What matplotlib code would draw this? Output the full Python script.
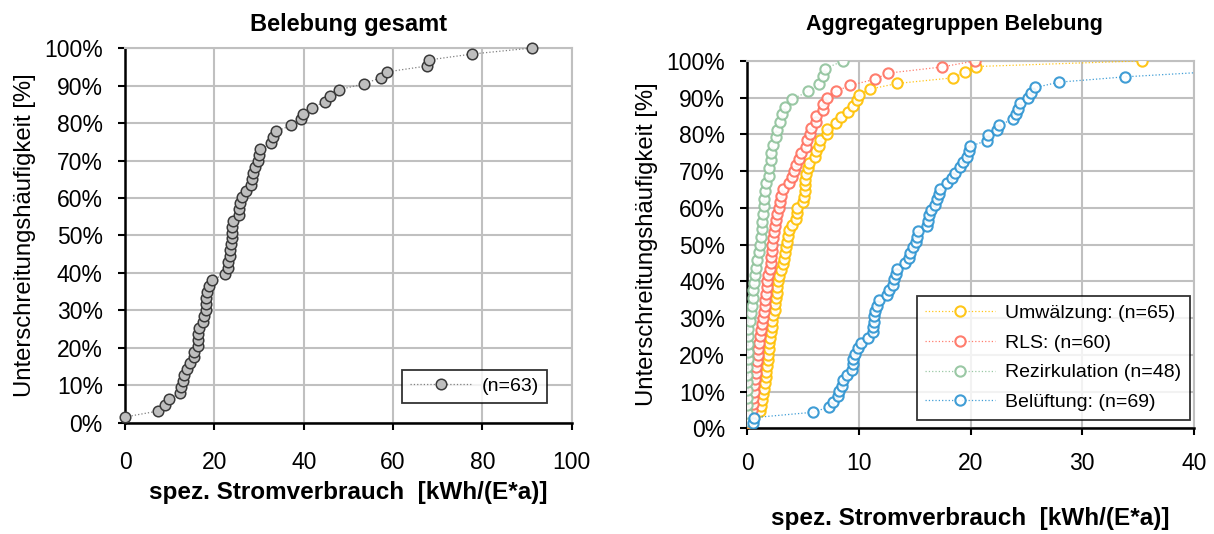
import matplotlib
matplotlib.use("Agg")
import matplotlib.pyplot as plt
import numpy as np
from matplotlib.ticker import PercentFormatter, MultipleLocator

plt.rcParams['font.family'] = ['Liberation Sans', 'DejaVu Sans']

# spez. Stromverbrauch [kWh/(E*a)], aufsteigend sortiert
gesamt = [0.0, 7.4, 8.9, 9.8, 12.3, 12.5, 12.9, 13.2, 13.8, 14.5,
          15.4, 15.5, 16.3, 16.3, 16.3, 16.6, 17.5, 17.7, 18.1, 18.2,
          18.2, 18.4, 18.8, 19.4, 22.3, 23.0, 23.0, 23.4, 23.6, 23.8,
          23.9, 23.9, 23.9, 24.2, 25.4, 25.5, 25.8, 26.2, 27.0, 28.3,
          28.4, 28.6, 29.0, 29.7, 30.0, 30.3, 32.7, 33.1, 33.8, 37.2,
          39.4, 39.8, 41.9, 44.8, 45.9, 47.9, 53.5, 57.2, 58.7, 67.7,
          68.0, 77.7, 91.0]

umwaelzung = [0.0, 0.5, 1.12, 1.18, 1.3, 1.42, 1.48, 1.57, 1.63, 1.69,
              1.75, 1.81, 1.84, 1.9, 1.95, 2.01, 2.07, 2.16, 2.22, 2.31,
              2.43, 2.49, 2.55, 2.61, 2.67, 2.7, 2.82, 2.97, 3.15, 3.27,
              3.36, 3.45, 3.5, 3.6, 3.75, 3.96, 4.34, 4.4, 4.46, 5.0,
              5.09, 5.12, 5.15, 5.18, 5.21, 5.45, 5.51, 6.07, 6.16, 6.4,
              6.49, 7.09, 7.15, 7.9, 8.37, 9.03, 9.48, 9.78, 9.99, 10.97,
              13.4, 18.4, 19.5, 20.5, 35.3]

rls = [0.0, 0.0, 0.37, 0.46, 0.52, 0.58, 0.61, 0.67, 0.73, 0.79,
       0.85, 0.91, 0.97, 1.06, 1.15, 1.24, 1.33, 1.42, 1.51, 1.54,
       1.6, 1.66, 1.72, 1.78, 1.87, 1.99, 2.07, 2.1, 2.16, 2.19,
       2.25, 2.34, 2.46, 2.55, 2.67, 2.79, 2.91, 3.03, 3.15, 3.75,
       3.96, 4.19, 4.31, 4.64, 4.79, 5.24, 5.3, 5.6, 5.66, 6.13,
       6.13, 6.79, 6.79, 7.09, 7.9, 9.18, 11.42, 12.6, 17.4, 20.4]

rezirkulation = [0.0, 0.0, 0.0, 0.0, 0.0, 0.0, 0.0, 0.0, 0.02, 0.03,
                 0.05, 0.06, 0.07, 0.19, 0.31, 0.4, 0.46, 0.52, 0.61, 0.67,
                 0.76, 0.88, 1.03, 1.12, 1.21, 1.27, 1.33, 1.42, 1.48, 1.51,
                 1.57, 1.66, 1.9, 1.96, 2.07, 2.1, 2.25, 2.55, 2.61, 2.91,
                 3.09, 3.36, 4.01, 5.45, 6.43, 6.79, 6.97, 8.58]

belueftung = [0.46, 0.58, 5.84, 7.33, 7.69, 8.13, 8.22, 8.43, 8.58, 8.88,
              9.33, 9.42, 9.48, 9.63, 9.93, 10.13, 10.82, 11.27, 11.27, 11.3,
              11.33, 11.42, 11.6, 11.81, 12.47, 12.7, 13.06, 13.12, 13.3, 13.42,
              14.1, 14.49, 14.6, 14.85, 15.1, 15.15, 15.24, 16.1, 16.19, 16.28,
              16.4, 16.79, 17.0, 17.12, 17.24, 17.9, 18.28, 18.58, 19.03, 19.27,
              19.63, 19.87, 19.98, 21.42, 21.57, 22.37, 22.55, 23.8, 24.05, 24.25,
              24.4, 25.15, 25.36, 25.8, 27.9, 33.8, 42.0, 55.0, 70.0]

gruppen = ['Umwälzung: (n=65)', 'RLS: (n=60)', 'Rezirkulation (n=48)', 'Belüftung: (n=69)']
farben = ['#FFC000', '#FF6F5E', '#8FC29B', '#2B93D1']

GRID = '#C0C0C0'
XLABEL = 'spez. Stromverbrauch  [kWh/(E*a)]'
YLABEL = 'Unterschreitungshäufigkeit [%]'


def cum(werte):
    # Unterschreitungshäufigkeit: Rang / n
    x = np.sort(np.asarray(werte))
    y = np.arange(1, len(x) + 1) / len(x)
    return x, y


def style_axes(ax, xmax, xstep, xpad):
    ax.set_xlim(0, xmax)
    ax.set_ylim(0, 1)
    ax.xaxis.set_major_locator(MultipleLocator(xstep))
    ax.yaxis.set_major_locator(MultipleLocator(0.1))
    ax.yaxis.set_major_formatter(PercentFormatter(1.0, decimals=0))
    ax.grid(True, color=GRID, linewidth=1.5)
    ax.set_axisbelow(True)
    for s in ['top', 'right']:
        ax.spines[s].set_color(GRID)
        ax.spines[s].set_linewidth(1.5)
    for s in ['left', 'bottom']:
        ax.spines[s].set_color('black')
        ax.spines[s].set_linewidth(1.8)
    ax.tick_params(axis='both', direction='out', length=5, width=1.5,
                   labelsize=16.5, colors='black')
    ax.tick_params(axis='x', pad=xpad)
    ax.tick_params(axis='y', pad=11)


fig = plt.figure(figsize=(12.14, 5.34), dpi=100)

# --- links: Belebung gesamt
ax1 = fig.add_axes([0.103, 0.208, 0.368, 0.702])
style_axes(ax1, 100, 20, 15)
x, y = cum(gesamt)
ax1.plot(x, y, linestyle=':', color='#808080', linewidth=0.9,
         marker='o', markersize=7.6, markerfacecolor='#BEBEBE',
         markeredgecolor='#3A3A3A', markeredgewidth=1.1,
         label='(n=63)', clip_on=False, zorder=3)
ax1.set_title('Belebung gesamt', fontsize=17, fontweight='bold', pad=12)
ax1.set_xlabel(XLABEL, fontsize=17.5, fontweight='bold', labelpad=5)
ax1.set_ylabel(YLABEL, fontsize=17.2, labelpad=6)
leg1 = ax1.legend(loc='lower right', bbox_to_anchor=(0.944, 0.053), fontsize=14,
                  frameon=True, fancybox=False, edgecolor='black', borderaxespad=0,
                  handlelength=3.2, numpoints=1, borderpad=0.4, handletextpad=0.5)
leg1.get_frame().set_linewidth(1.3)

# --- rechts: Aggregategruppen Belebung
ax2 = fig.add_axes([0.6157, 0.198, 0.3678, 0.688])
style_axes(ax2, 40, 10, 12)
for werte, name, c in zip([umwaelzung, rls, rezirkulation, belueftung], gruppen, farben):
    x, y = cum(werte)
    ax2.plot(x, y, linestyle=':', color=c, linewidth=0.9, alpha=0.9,
             marker='o', markersize=7.4, markerfacecolor='white',
             markeredgecolor=c, markeredgewidth=1.5, label=name, zorder=3)
ax2.set_title('Aggregategruppen Belebung', fontsize=15.5, fontweight='bold',
              pad=22, x=0.4625)
ax2.set_xlabel(XLABEL, fontsize=17.5, fontweight='bold', labelpad=23)
ax2.set_ylabel(YLABEL, fontsize=17.2, labelpad=6)
leg2 = ax2.legend(loc='lower right', bbox_to_anchor=(0.991, 0.023), fontsize=14,
                  frameon=True, fancybox=False, edgecolor='black', borderaxespad=0,
                  handlelength=3.6, numpoints=1, borderpad=0.45, labelspacing=0.62,
                  handletextpad=0.5)
leg2.get_frame().set_linewidth(1.3)

fig.savefig('out.png', dpi=100)
